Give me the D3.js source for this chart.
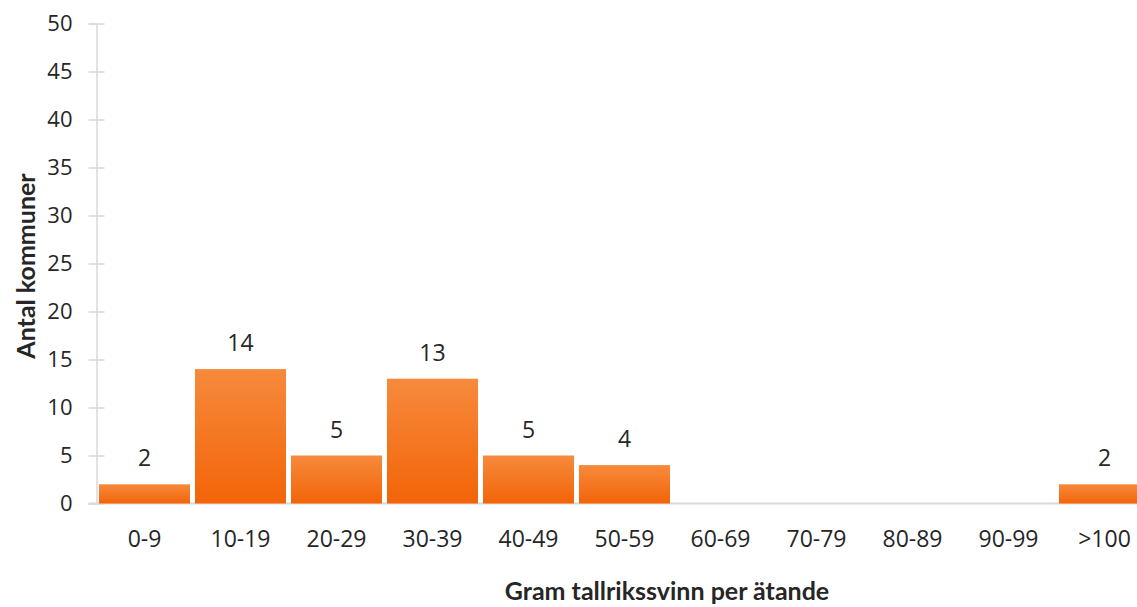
<!DOCTYPE html>
<html>
<head>
<meta charset="utf-8">
<script src="https://cdn.jsdelivr.net/npm/d3@7"></script>
<style>
  html, body { margin: 0; padding: 0; background: #fff; }
  svg { display: block; }
</style>
</head>
<body>
<svg id="chart" width="1137" height="607"></svg>
<script>
// Antal kommuner per intervall av tallrikssvinn (gram per ätande)
const categories = ["0-9", "10-19", "20-29", "30-39", "40-49", "50-59", "60-69", "70-79", "80-89", "90-99", ">100"];
const counts = [2, 14, 5, 13, 5, 4, 0, 0, 0, 0, 2];
const yTicks = [0, 5, 10, 15, 20, 25, 30, 35, 40, 45, 50];

const svg = d3.select("#chart");
const plot = { left: 96.5, top: 23.5, bottom: 503.5, step: 96 };

const x = d3.scaleBand()
  .domain(categories)
  .range([plot.left, plot.left + plot.step * categories.length])
  .paddingInner(5 / 96)
  .paddingOuter(2.5 / 96);

const y = d3.scaleLinear().domain([0, 50]).range([plot.bottom, plot.top]);

const font = "'Open Sans', sans-serif";
const textColor = "#262626";
const axisColor = "#d9d9d9";

// Gradient fill for bars
const defs = svg.append("defs");
const grad = defs.append("linearGradient")
  .attr("id", "barFill").attr("x1", 0).attr("y1", 0).attr("x2", 0).attr("y2", 1);
grad.append("stop").attr("offset", "0%").attr("stop-color", "#f68a3c");
grad.append("stop").attr("offset", "100%").attr("stop-color", "#f36408");

// Y axis
const yAxis = d3.axisLeft(y).tickValues(yTicks).tickSize(8).tickPadding(16);
const yg = svg.append("g").attr("transform", `translate(${plot.left},0)`).call(yAxis);
yg.select(".domain").attr("stroke", axisColor).attr("stroke-width", 1.5);
yg.selectAll(".tick line").attr("stroke", axisColor).attr("stroke-width", 1.5)
  .attr("x1", -8).attr("x2", 8);
yg.selectAll(".tick text").attr("fill", textColor).style("font-family", font).style("font-size", "22px");

// Baseline
svg.append("line")
  .attr("x1", plot.left - 8).attr("x2", 1137)
  .attr("y1", y(0)).attr("y2", y(0))
  .attr("stroke", axisColor).attr("stroke-width", 2);

// X axis labels
const xAxis = d3.axisBottom(x).tickSize(0).tickPadding(27);
const xg = svg.append("g").attr("transform", `translate(0,${plot.bottom})`).call(xAxis);
xg.select(".domain").remove();
xg.selectAll(".tick text").attr("fill", textColor).style("font-family", font).style("font-size", "23px");

// Bars
const data = categories.map((c, i) => ({ cat: c, value: counts[i] }));
svg.append("g").selectAll("rect")
  .data(data.filter(d => d.value > 0))
  .join("rect")
  .attr("x", d => x(d.cat))
  .attr("width", x.bandwidth())
  .attr("y", d => y(d.value))
  .attr("height", d => y(0) - y(d.value))
  .attr("fill", "url(#barFill)");

// Value labels
svg.append("g").selectAll("text")
  .data(data.filter(d => d.value > 0))
  .join("text")
  .attr("x", d => x(d.cat) + x.bandwidth() / 2)
  .attr("y", d => y(d.value) - 18)
  .attr("text-anchor", "middle")
  .attr("fill", textColor)
  .style("font-family", font)
  .style("font-size", "23px")
  .text(d => d.value);

// Axis titles
svg.append("text")
  .attr("x", 667).attr("y", 600)
  .attr("text-anchor", "middle")
  .attr("fill", textColor)
  .style("font-family", "Lato, sans-serif")
  .style("font-weight", "bold")
  .style("font-size", "25px")
  .text("Gram tallrikssvinn per ätande");

svg.append("text")
  .attr("transform", "translate(35,266) rotate(-90)")
  .attr("text-anchor", "middle")
  .attr("fill", textColor)
  .style("font-family", "Lato, sans-serif")
  .style("font-weight", "bold")
  .style("font-size", "25px")
  .text("Antal kommuner");
</script>
</body>
</html>
